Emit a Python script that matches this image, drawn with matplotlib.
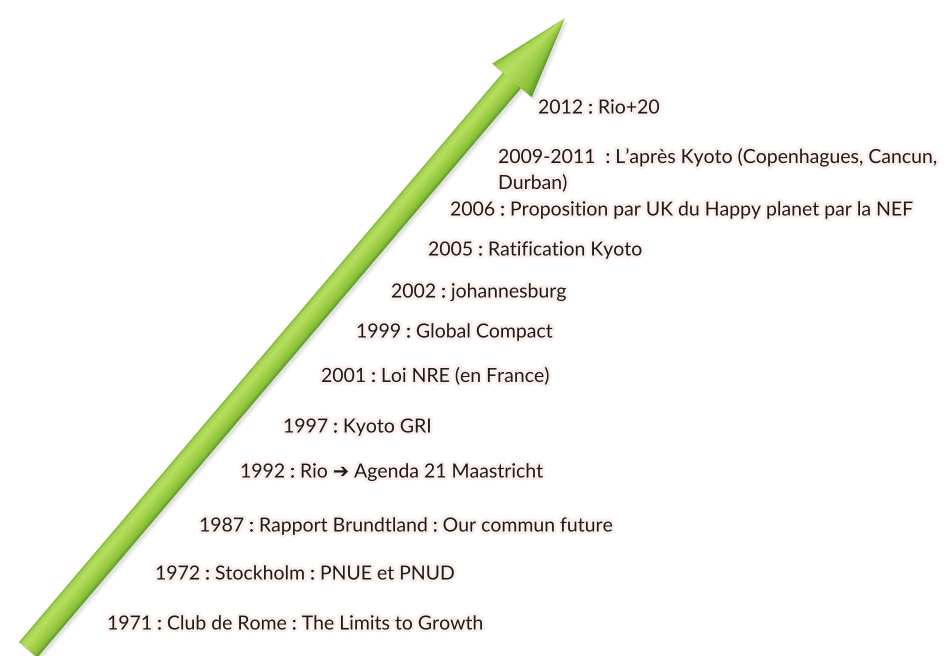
import matplotlib
matplotlib.use("Agg")
import matplotlib.pyplot as plt
import numpy as np
from matplotlib.patches import Polygon
from matplotlib.colors import LinearSegmentedColormap
import matplotlib.patheffects as pe

W, H = 947, 656

# Timeline events (top to bottom as in the picture)
labels = [
    "2012 : Rio+20",
    "2009-2011  : L’après Kyoto (Copenhagues, Cancun,",
    "Durban)",
    "2006 : Proposition par UK du Happy planet par la NEF",
    "2005 : Ratification Kyoto",
    "2002 : johannesburg",
    "1999 : Global Compact",
    "2001 : Loi NRE (en France)",
    "1997 : Kyoto GRI",
    "1992 : Rio ➔ Agenda 21 Maastricht",
    "1987 : Rapport Brundtland : Our commun future",
    "1972 : Stockholm : PNUE et PNUD",
    "1971 : Club de Rome : The Limits to Growth",
]
# label anchor positions in pixels (left x, centre y)
label_x = [538, 498, 498, 450, 428, 391, 356, 321, 283, 240, 199, 155, 107]
label_y = [108, 157, 183, 210, 250, 292, 332, 376, 427, 472, 526, 574, 624]

# arrow geometry (pixels)
tail = np.array([28.0, 650.0])
tip = np.array([565.0, 18.0])
shaft_half = 12.0
head_half = 26.0
head_len = 82.0

fig = plt.figure(figsize=(W / 100, H / 100), dpi=100)
ax = fig.add_axes([0, 0, 1, 1])
ax.set_xlim(0, W)
ax.set_ylim(H, 0)
ax.axis("off")

# Build arrow polygon
d = tip - tail
L = np.hypot(*d)
u = d / L
n = np.array([-u[1], u[0]])
if n[1] < 0:
    n = -n  # points to the lower-right side
base = tip - u * head_len
pts = [
    tail - n * shaft_half,
    base - n * shaft_half,
    base - n * head_half,
    tip,
    base + n * head_half,
    base + n * shaft_half,
    tail + n * shaft_half,
]

# soft shadow
for off, a in [(4, 0.06), (3, 0.08), (2, 0.10)]:
    sh = Polygon(np.array(pts) + off, closed=True, facecolor="#808080",
                 edgecolor="none", alpha=a, zorder=1)
    ax.add_patch(sh)

arrow = Polygon(pts, closed=True, facecolor="none", edgecolor="none", zorder=2)
ax.add_patch(arrow)

# gradient across the arrow width
xs = np.arange(0, 600)
ys = np.arange(0, H)
X, Y = np.meshgrid(xs + 0.5, ys + 0.5)
rx, ry = X - tail[0], Y - tail[1]
along = rx * u[0] + ry * u[1]
perp = rx * n[0] + ry * n[1]
hw = np.where(along < L - head_len, shaft_half,
              head_half * np.clip((L - along) / head_len, 0.05, 1))
s = np.clip(perp / hw, -1, 1)
cmap = LinearSegmentedColormap.from_list("arrow", [
    (0.00, "#7ab232"),
    (0.10, "#a4d450"),
    (0.30, "#b6de60"),
    (0.60, "#a2d048"),
    (0.85, "#88c03a"),
    (1.00, "#5e9828"),
])
img = ax.imshow((s + 1) / 2, cmap=cmap, vmin=0, vmax=1,
                extent=(0, 600, H, 0), zorder=2, interpolation="bilinear")
img.set_clip_path(arrow)

# labels
for txt, x, y in zip(labels, label_x, label_y):
    ax.text(x, y, txt, fontsize=14, family=["Lato", "DejaVu Sans"],
            color="#1c1c1c", ha="left", va="center", zorder=3,
            path_effects=[pe.withStroke(linewidth=4, foreground="#fcefec")])

fig.savefig("out.png", dpi=100, facecolor="white")
